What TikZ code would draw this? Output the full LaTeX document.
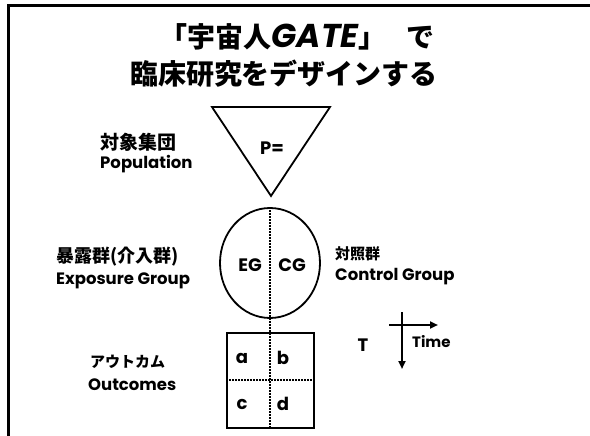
\documentclass[tikz,border=0pt]{standalone}
\usepackage{fontspec}
\newfontfamily\cjk{Noto Sans CJK JP}
\newfontfamily\lat{Poppins}
\usetikzlibrary{arrows.meta,shapes.geometric}
\begin{document}
\begin{tikzpicture}[x=1pt,y=-1pt,
  cjklabel/.style={font=\cjk\bfseries\fontsize{19}{21}\selectfont, anchor=west, inner sep=0pt},
  latlabel/.style={font=\lat\bfseries\fontsize{16.5}{18}\selectfont, anchor=west, inner sep=0pt},
  cell/.style={font=\lat\bfseries\fontsize{18}{20}\selectfont, inner sep=0pt},
  shape line/.style={line width=1.8pt},
  divider/.style={line width=2pt, dash pattern=on 1.6pt off 1.4pt},
  axis/.style={line width=2pt, -{Triangle[length=8pt,width=7pt]}}]
\useasboundingbox (0,0) rectangle (590,436);
% frame
\draw[line width=3pt] (590,6) -- (8,6) -- (8,436);
% title
\node[font=\cjk\bfseries\fontsize{28}{30}\selectfont, inner sep=0pt] (t1) at (297,37) {「宇宙人{\lat\bfseries\itshape\fontsize{33}{34}\selectfont GATE}」\hspace{20pt}で};
\node[font=\cjk\bfseries\fontsize{28}{30}\selectfont, inner sep=0pt] (t2) at (284,74) {臨床研究をデザインする};
% population triangle
\draw[shape line, line join=miter] (212,107) -- (330,107) -- (271,196) -- cycle;
\node[cell] (P) at (272,148) {P=};
\node[cjklabel] (popj) at (100,142) {対象集団};
\node[latlabel] (pope) at (100,164) {Population};
% groups circle
\node[draw, shape line, ellipse, minimum width=100pt, minimum height=110pt, inner sep=0pt] (grp) at (270,263) {};
\node[cell] (EG) at (250,265) {EG};
\node[cell] (CG) at (292,265) {CG};
\node[cjklabel, font=\cjk\bfseries\fontsize{18}{20}\selectfont] (expj) at (56,257) {暴露群(介入群)};
\node[latlabel] (expe) at (56,281) {Exposure Group};
\node[cjklabel, font=\cjk\bfseries\fontsize{15}{17}\selectfont] (conj) at (335,254) {対照群};
\node[latlabel] (cone) at (335,277) {Control Group};
% outcome square
\node[draw, shape line, minimum width=87pt, minimum height=95pt, inner sep=0pt] (out) at (270.5,380.5) {};
\coordinate (mid) at (270,380);
\draw[divider] (grp.north) -- (out.south -| grp.north);
\draw[divider] (out.west |- mid) -- (out.east |- mid);
\node[cell] (a) at (242,358) {a};
\node[cell] (b) at (283,358) {b};
\node[cell] (c) at (242,404) {c};
\node[cell] (d) at (283,404) {d};
\node[cjklabel, font=\cjk\bfseries\fontsize{15}{17}\selectfont] (outj) at (90,362) {アウトカム};
\node[latlabel] (oute) at (88,385) {Outcomes};
% time axes
\node[cell] (T) at (363,345) {T};
\coordinate (vtop) at (402,312);
\coordinate (vbot) at (402,369);
\coordinate (hl) at (389,325);
\coordinate (hr) at (438,325);
\draw[axis] (vtop) -- (vbot);
\draw[axis] (hl) -- (hr);
\node[latlabel, font=\lat\bfseries\fontsize{15}{17}\selectfont] (time) at (412,342) {Time};
\end{tikzpicture}
\end{document}
